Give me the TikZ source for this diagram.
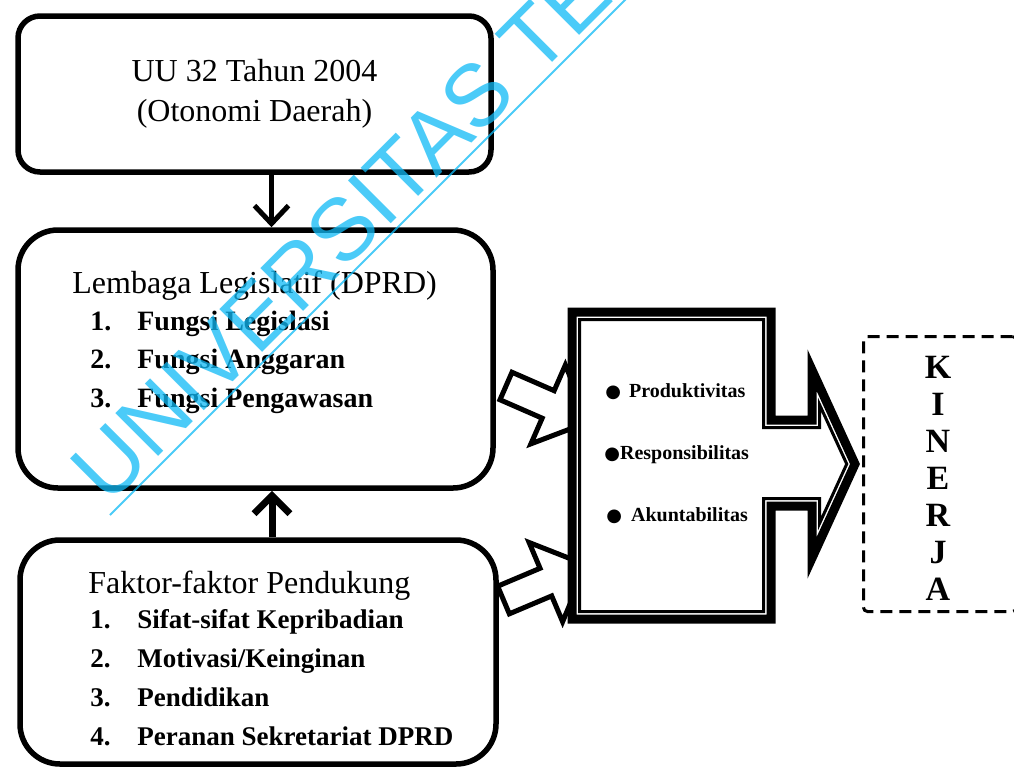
\documentclass[tikz,border=0pt]{standalone}
\usepackage{fontspec}
\setmainfont{Liberation Serif}
\newfontfamily\wmfont{Liberation Sans}
\newfontfamily\symfont{DejaVu Sans}
\usetikzlibrary{arrows.meta, calc}
\definecolor{wmcyan}{RGB}{15,185,245}
\tikzset{
  kotak/.style    = {draw, line width=2.75pt, align=center, inner sep=0pt,
                     font=\fontsize{16}{20}\selectfont},
  judul/.style    = {font=\fontsize{16}{20}\selectfont, anchor=base west, inner sep=0pt},
  butir/.style    = {font=\fontsize{14}{17}\selectfont\bfseries, anchor=base west, inner sep=0pt},
  butirb/.style   = {butir, font=\fontsize{13.5}{17}\selectfont\bfseries},
  poin/.style     = {font=\fontsize{10}{12}\selectfont\bfseries, anchor=base west, inner sep=0pt},
  blok/.style     = {draw, line width=2.5pt, fill=white, line join=miter},
  turun/.style    = {-{Straight Barb[length=9pt, width=17pt]}, line width=2.5pt},
  naik/.style     = {-{Straight Barb[length=9pt, width=18pt]}, line width=3.5pt},
  putus/.style    = {draw, line width=1.5pt, dash pattern=on 6pt off 3.5pt,
                     rounded corners=2pt, minimum width=76.5pt, minimum height=137.5pt},
  huruf/.style    = {font=\fontsize{17}{18.5}\selectfont\bfseries, align=center, inner sep=0pt},
  tanda/.style    = {font=\wmfont\fontsize{44}{44}\selectfont, text=wmcyan, text opacity=0.75,
                     rotate=45, anchor=base west, inner sep=0pt},
}
\newcommand{\nomor}[1]{\makebox[23.5pt][l]{#1}}
\newcommand{\bul}{{\symfont\mdseries\fontsize{9}{12}\selectfont ●}}
% outline of the result box with its arrow, pulled in by #1 px
\newcommand{\garishasil}[1]{({572+#1},{312+#1}) -- ({771-#1},{312+#1}) -- ({771-#1},{420+#1})
  -- ({812+#1},{420+#1}) -- ({812+#1},{370+4.6*#1}) -- ({855-1.1*#1},464)
  -- ({812+#1},{558-4.6*#1}) -- ({812+#1},{506-#1}) -- ({771-#1},{506-#1})
  -- ({771-#1},{619-#1}) -- ({572+#1},{619-#1}) -- cycle}
\newcommand{\panahblok}{(0,-15) -- (46,-15) -- (46,-43) -- (90,0) -- (46,43) -- (46,15) -- (0,15) -- cycle}

\begin{document}
\begin{tikzpicture}[x=0.5pt, y=-0.5pt]
  \useasboundingbox (0,0) rectangle (1014,768);
  \clip (0,0) rectangle (1014,768);

  \node[kotak, rounded corners=11pt, minimum width=236.5pt, minimum height=78pt]
    (uu) at (254.5,94) {UU 32 Tahun 2004\\(Otonomi Daerah)};
  \node[kotak, rounded corners=20pt, minimum width=237.5pt, minimum height=129pt]
    (lembaga) at (255.5,359) {};
  \node[kotak, rounded corners=20pt, minimum width=238pt, minimum height=112pt]
    (faktor) at (258,652) {};

  \draw[turun] ([xshift=8.5pt]uu.south) -- ([xshift=8.5pt]uu.south |- lembaga.north);
  \draw[naik] ([xshift=7pt]faktor.north) -- ([xshift=7pt]faktor.north |- lembaga.south);

  \node[judul] (lemjudul) at (72,293) {Lembaga Legislatif (DPRD)};
  \foreach \t [count=\i] in {Fungsi Legislasi, Fungsi Anggaran, Fungsi Pengawasan}
    \node[butir] (fungsi\i) at (90,{330+38.5*(\i-1)}) {\nomor{\i.}\t};

  \node[judul] (fakjudul) at (88,593) {Faktor-faktor Pendukung};
  \foreach \t [count=\i] in {Sifat-sifat Kepribadian, Motivasi/Keinginan, Pendidikan, Peranan Sekretariat DPRD}
    \node[butirb] (faktor\i) at (90,{628+39*(\i-1)}) {\nomor{\i.}\t};

  % block arrows into the result box
  \draw[blok, shift={(506,386)}, rotate=-23.6] \panahblok;
  \draw[blok, shift={(503.5,600)}, rotate=22.9] \panahblok;

  \fill[white] \garishasil{0};
  \draw[line width=4.5pt, line join=miter] \garishasil{0};
  \draw[line width=1.5pt, line join=miter] \garishasil{7.5};

  \node[poin] (prod) at (605,397) {\bul\hspace{4pt}Produktivitas};
  \node[poin] (resp) at (604,459) {\bul Responsibilitas};
  \node[poin] (akun) at (606,521) {\bul\hspace{4.5pt}Akuntabilitas};

  \node[putus] (kinerja) at (940,474) {};
  \node[huruf] (kata) at (938,478.5) {K\\I\\N\\E\\R\\J\\A};

  % watermark
  \node[tanda] (tanda) at (108.5,506.5) {UNIVERSITAS TE};
  \draw[wmcyan, opacity=0.75, line width=1pt] (110,515) -- (640,-15);
\end{tikzpicture}
\end{document}
